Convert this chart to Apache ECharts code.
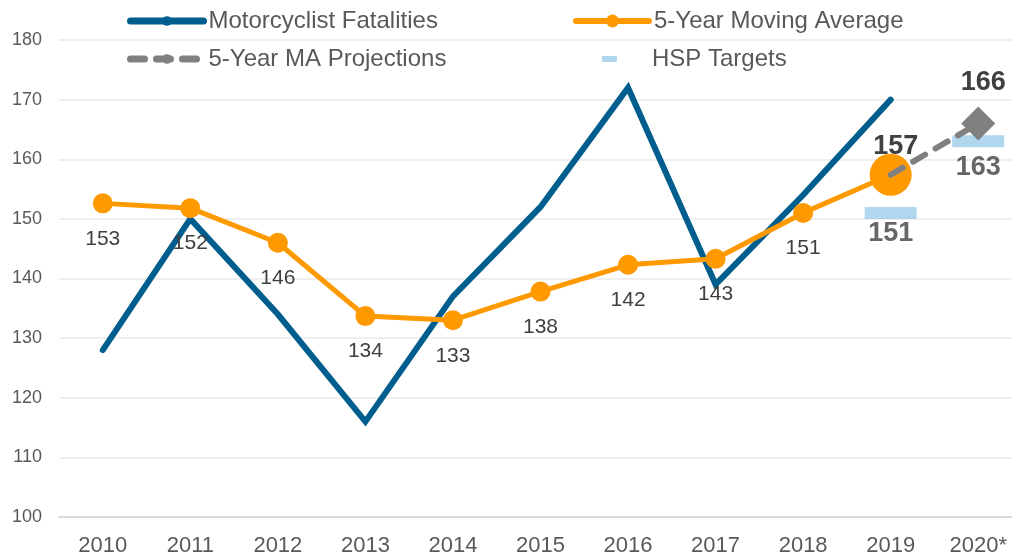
<!DOCTYPE html>
<html>
<head>
<meta charset="utf-8">
<script src="https://cdn.jsdelivr.net/npm/echarts@6/dist/echarts.min.js"></script>
<style>
  html, body { margin: 0; padding: 0; background: #fff; overflow: hidden; }
  #chart { width: 1022px; height: 557px; }
</style>
</head>
<body>
<div id="chart"></div>
<script>
var years = ['2010', '2011', '2012', '2013', '2014', '2015', '2016', '2017', '2018', '2019', '2020*'];
var fatalities = [128, 150, 134, 116, 137, 152, 172, 139, 154, 170, null];
var movingAvg = [152.6, 151.8, 146.0, 133.7, 133.0, 137.8, 142.3, 143.3, 151.0, 157.4, null];
var maLabels = ['153', '152', '146', '134', '133', '138', '142', '143', '151', '157', ''];
var projections = [null, null, null, null, null, null, null, null, null, 157.4, 166];
var hspTargets = [null, null, null, null, null, null, null, null, null, 151, 163];
var yTicks = [100, 110, 120, 130, 140, 150, 160, 170, 180];

var BLUE = '#005E8E';
var ORANGE = '#FF9900';
var GRAY = '#808080';
var LIGHT = '#9DCDEB';
var TEXT = '#404040';

// the plot runs a little past the right edge of the window, so the canvas is wider
var myChart = echarts.init(document.getElementById('chart'));

// moving average points, 2019 is the big one
var maData = movingAvg.map(function (v, i) {
    if (i === 9) {
        return {
            value: v,
            symbolSize: 42,
            label: {
                show: true, position: 'top', distance: 0, offset: [5, 6],
                formatter: maLabels[i], fontSize: 27, fontWeight: 'bold', color: TEXT
            }
        };
    }
    return v;
});

var projData = projections.map(function (v, i) {
    if (i === 10) {
        return {
            value: v,
            symbol: 'diamond',
            symbolSize: 34,
            itemStyle: { color: GRAY },
            label: {
                show: true, position: 'top', distance: 10, offset: [5, 0],
                formatter: '166', fontSize: 27, fontWeight: 'bold', color: TEXT
            }
        };
    }
    return v;
});

var hspData = hspTargets.map(function (v, i) {
    if (v == null) return null;
    return {
        value: v,
        label: {
            show: true, position: 'bottom', distance: i === 9 ? 1 : 7,
            formatter: String(v), fontSize: 27, fontWeight: 'bold', color: TEXT
        }
    };
});

var legendText = { fontSize: 24, color: '#595959', fontFamily: 'Liberation Sans, Arial, sans-serif' };

myChart.setOption({
    animation: false,
    textStyle: { fontFamily: 'Liberation Sans, Arial, sans-serif' },
    grid: { left: 59, right: 0, top: 40, bottom: 40 },
    legend: [
        {
            left: 127, top: 9, padding: 0, itemWidth: 73, itemHeight: 12, itemGap: 0,
            data: ['Motorcyclist Fatalities'], textStyle: legendText,
            lineStyle: { width: 7, cap: 'round' }
        },
        {
            left: 573, top: 9, padding: 0, itemWidth: 73, itemHeight: 16, itemGap: 0,
            data: ['5-Year Moving Average'], textStyle: legendText,
            lineStyle: { width: 6, cap: 'round' }
        },
        {
            left: 127, top: 47, padding: 0, itemWidth: 73, itemHeight: 12, itemGap: 0,
            data: ['5-Year MA Projections'], textStyle: legendText,
            lineStyle: { width: 7, cap: 'round' }
        },
        {
            left: 602, top: 47, padding: 0, itemWidth: 15, itemHeight: 6, itemGap: 0,
            data: [{ name: 'HSP Targets', icon: 'rect' }],
            textStyle: Object.assign({ padding: [0, 0, 0, 30] }, legendText)
        }
    ],
    xAxis: {
        type: 'category',
        data: years,
        boundaryGap: true,
        axisLine: { lineStyle: { color: '#D9D9D9', width: 2 } },
        axisTick: { show: false },
        axisLabel: { fontSize: 22, color: '#595959', margin: 18 }
    },
    yAxis: {
        type: 'value',
        min: yTicks[0],
        max: yTicks[yTicks.length - 1],
        interval: 10,
        axisLine: { show: false },
        axisTick: { show: false },
        axisLabel: { fontSize: 18, color: '#595959', margin: 17 },
        splitLine: { lineStyle: { color: '#EFEFEF', width: 2 } }
    },
    series: [
        {
            name: 'Motorcyclist Fatalities',
            type: 'line',
            data: fatalities,
            symbol: 'none',
            lineStyle: { color: BLUE, width: 6, cap: 'round', join: 'miter' },
            itemStyle: { color: BLUE },
            z: 2
        },
        {
            name: '5-Year Moving Average',
            type: 'line',
            data: maData,
            symbol: 'circle',
            symbolSize: 20,
            lineStyle: { color: ORANGE, width: 5, cap: 'round' },
            itemStyle: { color: ORANGE },
            label: {
                show: true,
                position: 'bottom',
                distance: 15,
                fontSize: 21,
                color: TEXT,
                formatter: function (p) { return maLabels[p.dataIndex]; }
            },
            z: 3
        },
        {
            name: '5-Year MA Projections',
            type: 'line',
            data: projData,
            symbol: 'none',
            showSymbol: true,
            lineStyle: { color: GRAY, width: 6, type: [14, 12], cap: 'round' },
            itemStyle: { color: GRAY },
            z: 4
        },
        {
            name: 'HSP Targets',
            type: 'scatter',
            data: hspData,
            symbol: 'rect',
            symbolSize: [52, 12],
            itemStyle: { color: LIGHT },
            z: 3
        }
    ]
});
</script>
</body>
</html>
